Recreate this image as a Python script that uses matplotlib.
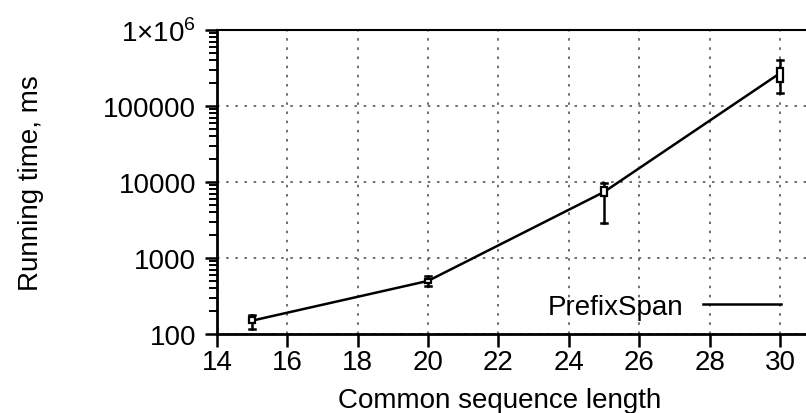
import matplotlib
matplotlib.use('Agg')
import matplotlib.pyplot as plt
from matplotlib.patches import Rectangle
from matplotlib.ticker import FixedLocator, FixedFormatter, LogLocator, NullFormatter
import numpy as np

plt.rcParams['font.family'] = ['Liberation Sans', 'DejaVu Sans']
plt.rcParams['mathtext.fontset'] = 'custom'
plt.rcParams['mathtext.rm'] = 'Liberation Sans'
plt.rcParams['font.size'] = 20

# data
lengths = [15, 20, 25, 30]
mean_ms = [150, 500, 7400, 270000]
low_ms = [115, 430, 2900, 148000]
high_ms = [180, 580, 9700, 400000]
box_low = [140, 470, 6500, 205000]
box_high = [165, 530, 8600, 320000]

yticks = [100, 1000, 10000, 100000, 1000000]
ytick_labels = ['100', '1000', '10000', '100000', r'1$\times$10$^{6}$']
xticks = list(range(14, 31, 2))

fig = plt.figure(figsize=(8.06, 4.14), dpi=100)
ax = fig.add_axes([217/806, 79/414, 589/806, 304/414])

ax.set_yscale('log')
ax.set_xlim(14, 30.74)
ax.set_ylim(100, 1e6)

ax.plot(lengths, mean_ms, color='black', lw=1.8, label='PrefixSpan', zorder=3)

w = 0.17
for x, lo, hi, bl, bh in zip(lengths, low_ms, high_ms, box_low, box_high):
    ax.plot([x, x], [lo, bl], color='black', lw=1.8, zorder=3)
    ax.plot([x, x], [bh, hi], color='black', lw=1.8, zorder=3)
    ax.plot([x - w/2, x + w/2], [lo, lo], color='black', lw=1.8, zorder=3)
    ax.plot([x - w/2, x + w/2], [hi, hi], color='black', lw=1.8, zorder=3)
    ax.add_patch(Rectangle((x - w/2, bl), w, bh - bl, facecolor='white',
                           edgecolor='black', lw=1.6, zorder=4))

ax.yaxis.set_major_locator(FixedLocator(yticks))
ax.yaxis.set_major_formatter(FixedFormatter(ytick_labels))
ax.yaxis.set_minor_locator(LogLocator(base=10, subs=np.arange(2, 10)))
ax.yaxis.set_minor_formatter(NullFormatter())
ax.set_xticks(xticks)

ax.grid(True, which='major', linestyle=(0, (1.5, 4)), color='#555555', lw=1.2)
ax.tick_params(axis='both', which='major', direction='out', length=9, width=1.8)
ax.tick_params(axis='x', which='major', pad=2)
ax.tick_params(axis='y', which='major', pad=6)
ax.tick_params(axis='y', which='minor', direction='out', length=6, width=1.4)
ax.tick_params(axis='x', which='minor', bottom=False)

for s in ['left', 'bottom']:
    ax.spines[s].set_linewidth(2)
ax.spines['top'].set_linewidth(1.5)
ax.spines['right'].set_visible(False)

ax.set_xlabel('Common sequence length')
ax.xaxis.set_label_coords((500 - 217) / 589, -(401 - 335) / 304)
ax.xaxis.label.set_va('center')
ax.set_ylabel('Running time, ms')
ax.yaxis.set_label_coords(-(217 - 31) / 589, 0.5)
ax.yaxis.label.set_va('center')

ax.legend(loc='center right', bbox_to_anchor=(0.976, 0.09), frameon=False,
          markerfirst=False, handlelength=2.8, handletextpad=0.7, borderaxespad=0)

fig.savefig('out.png', dpi=100)
